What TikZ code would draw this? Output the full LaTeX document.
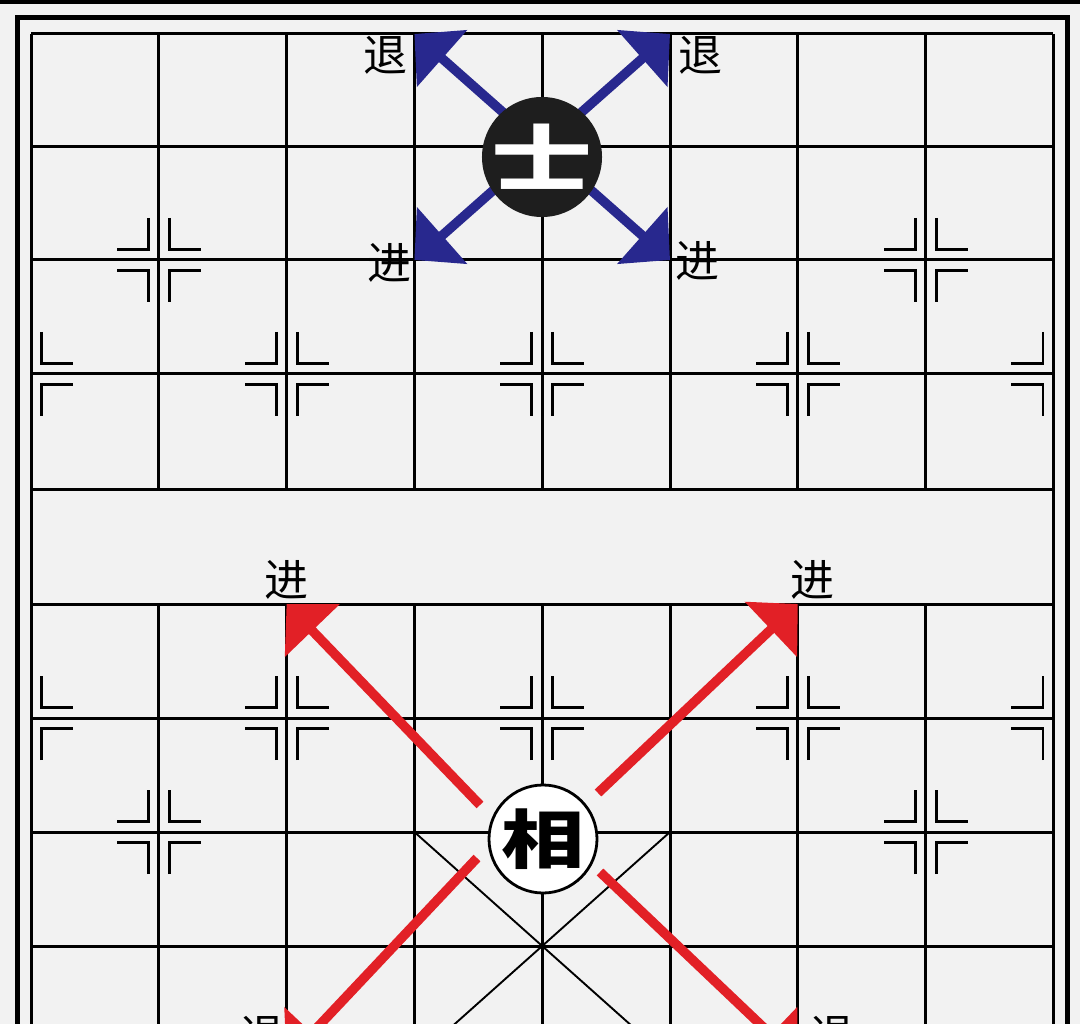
\documentclass[tikz,border=0pt]{standalone}
\usepackage{fontspec}
\usepackage{graphicx}
\newfontfamily\cjk{Noto Sans CJK SC}
\usetikzlibrary{arrows.meta}
\definecolor{bgc}{RGB}{242,242,242}
\definecolor{bluearr}{RGB}{40,40,142}
\definecolor{redarr}{RGB}{226,32,38}
\begin{document}
\begin{tikzpicture}[x=1pt,y=-1pt,
  gridline/.style={line width=3pt, black},
  palace/.style={line width=1.9pt, black},
  markline/.style={line width=2.8pt, black},
  frameline/.style={line width=5pt, black},
  bluemove/.style={draw=bluearr, line width=9.5pt, -{Triangle[length=37pt,width=74pt]}},
  redmove/.style={draw=redarr, line width=9.5pt, -{Triangle[length=37pt,width=74pt]}},
  lbl/.style={font=\cjk\fontsize{44}{44}\selectfont, inner sep=0pt},
  markR/.pic={
    \draw[markline] (10.5,-42) -- (10.5,-10.5) -- (42,-10.5);
    \draw[markline] (10.5,42) -- (10.5,10.5) -- (42,10.5);
  },
  markL/.pic={
    \draw[markline] (-10.5,-42) -- (-10.5,-10.5) -- (-42,-10.5);
    \draw[markline] (-10.5,42) -- (-10.5,10.5) -- (-42,10.5);
  },
  markB/.pic={
    \pic {markR}; \pic {markL};
  },
]
\useasboundingbox (0,0) rectangle (1080,1024);
\fill[bgc] (0,0) rectangle (1080,1024);
\clip (0,0) rectangle (1080,1024);
\fill[black] (0,0) rectangle (1080,4.5);
% outer frame
\draw[frameline] (17,18) rectangle (1067,1110);
% intersections
\foreach \i in {0,...,8}
  \foreach \j/\y in {0/34,1/147,2/260,3/374,4/489,5/604,6/718,7/832,8/946,9/1060}
    \coordinate (p-\i-\j) at ({31+127.8*\i},\y);
% grid
\foreach \j in {0,...,9} \draw[gridline] (p-0-\j) -- (p-8-\j);
\foreach \i in {1,...,7} {
  \draw[gridline] (p-\i-0) -- (p-\i-4);
  \draw[gridline] (p-\i-5) -- (p-\i-9);
}
\draw[gridline] (p-0-0) -- (p-0-9);
\draw[gridline] (p-8-0) -- (p-8-9);
% palace diagonals (bottom)
\draw[palace] (p-3-7) -- (p-5-9);
\draw[palace] (p-5-7) -- (p-3-9);
% position marks
\pic at (p-1-2) {markB};
\pic at (p-7-2) {markB};
\pic at (p-0-3) {markR};
\pic at (p-2-3) {markB};
\pic at (p-4-3) {markB};
\pic at (p-6-3) {markB};
\pic at (p-8-3) {markL};
\pic at (p-0-6) {markR};
\pic at (p-2-6) {markB};
\pic at (p-4-6) {markB};
\pic at (p-6-6) {markB};
\pic at (p-8-6) {markL};
\pic at (p-1-7) {markB};
\pic at (p-7-7) {markB};
% advisor moves
\draw[bluemove] (p-4-1) -- (p-3-0);
\draw[bluemove] (p-4-1) -- (p-5-0);
\draw[bluemove] (p-4-1) -- (p-3-2);
\draw[bluemove] (p-4-1) -- (p-5-2);
\node[circle, fill={rgb,255:red,30;green,30;blue,30}, minimum size=111pt, inner sep=0pt,
      text=white, font=\cjk\bfseries\fontsize{72}{72}\selectfont] (shi) at (542,157) {\scalebox{1.4}[1]{士}};
% elephant moves
\coordinate (rs1) at (480,805);
\coordinate (rs2) at (598,793);
\coordinate (rs3) at (477,858);
\coordinate (rs4) at (600,872);
\draw[redmove] (rs1) -- (p-2-5);
\draw[redmove] (rs2) -- (p-6-5);
\draw[redmove] (rs3) -- (p-2-9);
\draw[redmove] (rs4) -- (p-6-9);
\node[circle, draw, line width=2.8pt, fill=white, minimum size=108pt, inner sep=0pt,
      font=\cjk\bfseries\fontsize{64}{64}\selectfont] (xiang) at (543,839) {\scalebox{1.3}[1]{相}};
% labels
\node[lbl] (l1) at (385,55) {退};
\node[lbl] (l2) at (700,55) {退};
\node[lbl] (l3) at (389,263) {进};
\node[lbl] (l4) at (697,261) {进};
\node[lbl] (l5) at (286,580) {进};
\node[lbl] (l6) at (812,580) {进};
\node[lbl] (l7) at (262,1035) {退};
\node[lbl] (l8) at (832,1035) {退};
\end{tikzpicture}
\end{document}
